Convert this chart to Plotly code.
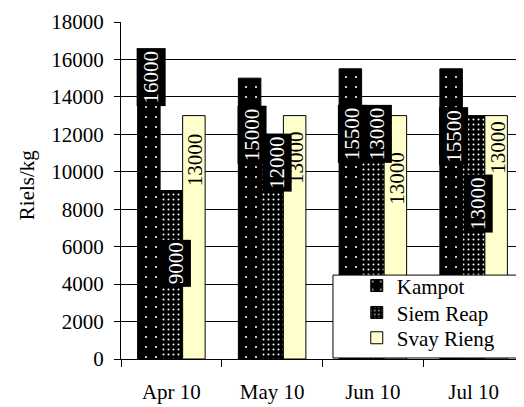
import plotly.graph_objects as go

months = ["Apr 10", "May 10", "Jun 10", "Jul 10"]
kampot = [16000, 15000, 15500, 15500]
siem_reap = [9000, 12000, 13000, 13000]
svay_rieng = [13000, 13000, 13000, 13000]
y_ticks = [0, 2000, 4000, 6000, 8000, 10000, 12000, 14000, 16000, 18000]

# label anchor heights (centre of each rotated data label, in axis units)
kampot_label_y = [15050, 11960, 12045, 11910]
siem_label_y = [5130, 10470, 12045, 8310]
svay_label_y = [10630, 10740, 9670, 11320]

FONT = "Liberation Serif, Times New Roman, serif"
FS = 21

fig = go.Figure()
fig.add_trace(go.Bar(
    name="Kampot", x=months, y=kampot, legend="legend",
    marker=dict(color="black", line=dict(color="black", width=1),
                pattern=dict(shape=".", bgcolor="black", fgcolor="white",
                             size=10, solidity=0.035, fillmode="replace")),
))
fig.add_trace(go.Bar(
    name="Siem Reap", x=months, y=siem_reap, legend="legend2",
    marker=dict(color="black", line=dict(color="black", width=1),
                pattern=dict(shape=".", bgcolor="black", fgcolor="white",
                             size=5, solidity=0.13, fillmode="replace")),
))
fig.add_trace(go.Bar(
    name="Svay Rieng", x=months, y=svay_rieng, legend="legend3",
    marker=dict(color="#FFFFCC", line=dict(color="black", width=1)),
))

annotations = []
for m, v, ly in zip(months, svay_rieng, svay_label_y):
    annotations.append(dict(x=m, y=ly, xref="x", yref="y", text=str(v), showarrow=False,
                            textangle=-90, xshift=24,
                            font=dict(family=FONT, size=FS, color="black")))
for vals, lys, xs in ((kampot, kampot_label_y, -20), (siem_reap, siem_label_y, 5)):
    for m, v, ly in zip(months, vals, lys):
        annotations.append(dict(x=m, y=ly, xref="x", yref="y", text=str(v), showarrow=False,
                                textangle=-90, xshift=xs, bgcolor="black", borderpad=2,
                                font=dict(family=FONT, size=FS, color="white")))
annotations.append(dict(x=-0.233, y=0.516, xref="paper", yref="paper", text="Riels/kg",
                        xanchor="center", yanchor="middle",
                        showarrow=False, textangle=-90,
                        font=dict(family=FONT, size=FS, color="black")))

leg_common = dict(xanchor="left", yanchor="middle", bgcolor="rgba(0,0,0,0)", borderwidth=0,
                  font=dict(family=FONT, size=FS, color="black"))
fig.update_layout(
    width=516, height=399,
    margin=dict(l=113, r=0, t=14, b=48, autoexpand=False),
    paper_bgcolor="white", plot_bgcolor="white",
    font=dict(family=FONT, size=FS, color="black"),
    barmode="group", bargap=0.33, bargroupgap=0,
    showlegend=True,
    legend=dict(x=0.585, y=0.217, **leg_common),
    legend2=dict(x=0.585, y=0.137, **leg_common),
    legend3=dict(x=0.585, y=0.062, **leg_common),
    annotations=annotations,
    shapes=[dict(type="rect", xref="paper", yref="paper", x0=0.526, x1=1.05,
                 y0=0.003, y1=0.249, line=dict(color="black", width=1),
                 fillcolor="white", layer="above")],
)
fig.update_xaxes(
    type="category", showline=True, linecolor="black", linewidth=1,
    ticks="outside", ticklen=7, tickcolor="black", tickson="boundaries",
    showgrid=False, tickfont=dict(family=FONT, size=FS), automargin=False,
    ticklabelstandoff=14,
)
fig.update_yaxes(
    range=[0, 18000], tickvals=y_ticks, ticktext=[str(t) for t in y_ticks],
    showline=True, linecolor="black", linewidth=1,
    ticks="outside", ticklen=6, tickcolor="black",
    showgrid=True, gridcolor="black", gridwidth=1, zeroline=False,
    tickfont=dict(family=FONT, size=FS), automargin=False, ticklabelstandoff=6,
)

fig.write_html("out.html")
